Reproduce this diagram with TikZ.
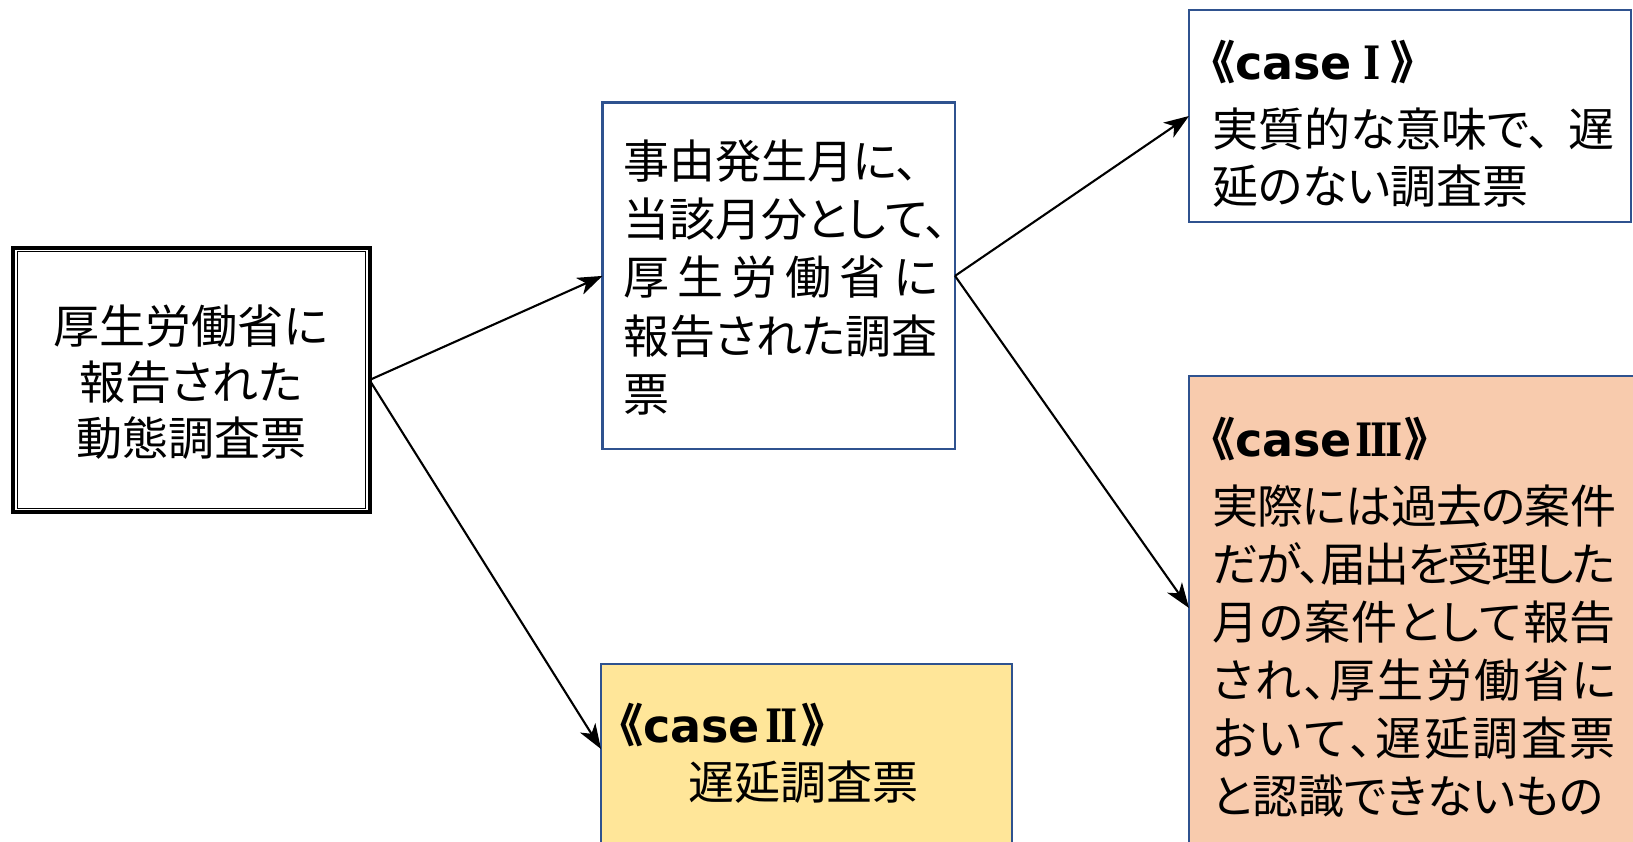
\documentclass[tikz,border=0pt]{standalone}
\usepackage{fontspec}
\usepackage{graphicx}
\setmainfont{Noto Sans CJK JP}[RawFeature=+palt]
\newfontfamily\latinb{DejaVu Sans}
\newfontfamily\romanb{DejaVu Serif}
\usetikzlibrary{arrows.meta}
\definecolor{bord}{RGB}{47,82,143}
\definecolor{caseIIfill}{RGB}{255,230,153}
\definecolor{caseIIIfill}{RGB}{248,203,173}
\def\sprd#1{\ifx#1\relax\else#1\hskip0pt plus1fill minus4pt\relax\expandafter\sprd\fi}
\newcommand\spreadline[2]{\makebox[#1][s]{\sprd#2\relax\unskip}}
\newcommand\rnum[1]{\scalebox{0.8}[1]{\romanb\bfseries #1}}
\newcommand\casehead[1]{{\bfseries 《}{\latinb\bfseries case}#1{\bfseries 》}}
\newlength\lineW
\begin{document}
\begin{tikzpicture}[x=1pt,y=-1pt,
  txt/.style={inner sep=0pt, outer sep=0pt, anchor=base west, font=\fontsize{46}{56}\selectfont},
  ctxt/.style={txt, anchor=base},
  bluebox/.style={draw=bord, line width=2.2pt, outer sep=0pt, inner sep=0pt, anchor=north west},
  conn/.style={line width=2.1pt, -{Stealth[length=25pt,width=18pt,inset=7pt]}},
]
\useasboundingbox (0,0) rectangle (1633,842);
\fill[white] (0,0) rectangle (1633,842);

% boxes
\node[draw=black, line width=4pt, outer sep=0pt, inner sep=0pt, anchor=north west,
      minimum width=356.5pt, minimum height=264pt] (A) at (13,248) {};
\draw[line width=1pt] ([shift={(4,4)}]A.north west) rectangle ([shift={(-4,-4)}]A.south east);

\node[bluebox, minimum width=352.5pt, minimum height=346.8pt] (B) at (602.5,102.5) {};
\node[bluebox, minimum width=442pt, minimum height=212pt] (C) at (1189,10) {};
\node[bluebox, fill=caseIIIfill, minimum width=500pt, minimum height=500pt] (D) at (1189,376) {};
\node[bluebox, fill=caseIIfill, minimum width=411pt, minimum height=220pt] (E) at (601,664) {};

% texts in A
\node[ctxt] (a1) at (191,343) {厚生労働省に};
\node[ctxt] (a2) at (191,399) {報告された};
\node[ctxt] (a3) at (191,455) {動態調査票};

% texts in B
\node[txt] (b1) at (623,179) {事由発生月に、};
\node[txt] (b2) at (623,237) {当該月分として、};
\node[txt] (b3) at (623,295) {\settowidth\lineW{報告された調査}\spreadline{\lineW}{厚生労働省に}};
\node[txt] (b4) at (623,353) {報告された調査};
\node[txt] (b5) at (623,411) {票};

% texts in C
\node[txt] (c1) at (1212,80) {\casehead{\kern12pt\rnum{I}\kern10pt}};
\node[txt] (c2) at (1212,147) {実質的な意味で、\kern18pt 遅};
\node[txt] (c3) at (1212,204) {延のない調査票};

% texts in D
\node[txt] (d1) at (1212,456) {\casehead{\kern4pt\rnum{I\kern-3pt I\kern-3pt I}\kern2pt}};
\node[txt] (d2) at (1212,523) {\spreadline{404pt}{実際には過去の案件}};
\node[txt] (d3) at (1212,581) {\spreadline{404pt}{だが、届出を受理した}};
\node[txt] (d4) at (1212,639) {\spreadline{404pt}{月の案件として報告}};
\node[txt] (d5) at (1212,697) {\spreadline{404pt}{され、厚生労働省に}};
\node[txt] (d6) at (1212,755) {\spreadline{404pt}{おいて、遅延調査票}};
\node[txt] (d7) at (1212,813) {と認識できないもの};

% texts in E
\node[txt] (e1) at (620,742) {\casehead{\kern6pt\rnum{I\kern-3pt I}\kern4pt}};
\node[txt] (e2) at (688,799) {遅延調査票};

% connectors
\draw[conn] (A.east) -- (B.west);
\draw[conn] (A.east) -- ([shift={(0,85)}]E.north west);
\draw[conn] (B.east) -- (C.west);
\draw[conn] (B.east) -- ([shift={(0,232)}]D.north west);
\end{tikzpicture}
\end{document}
